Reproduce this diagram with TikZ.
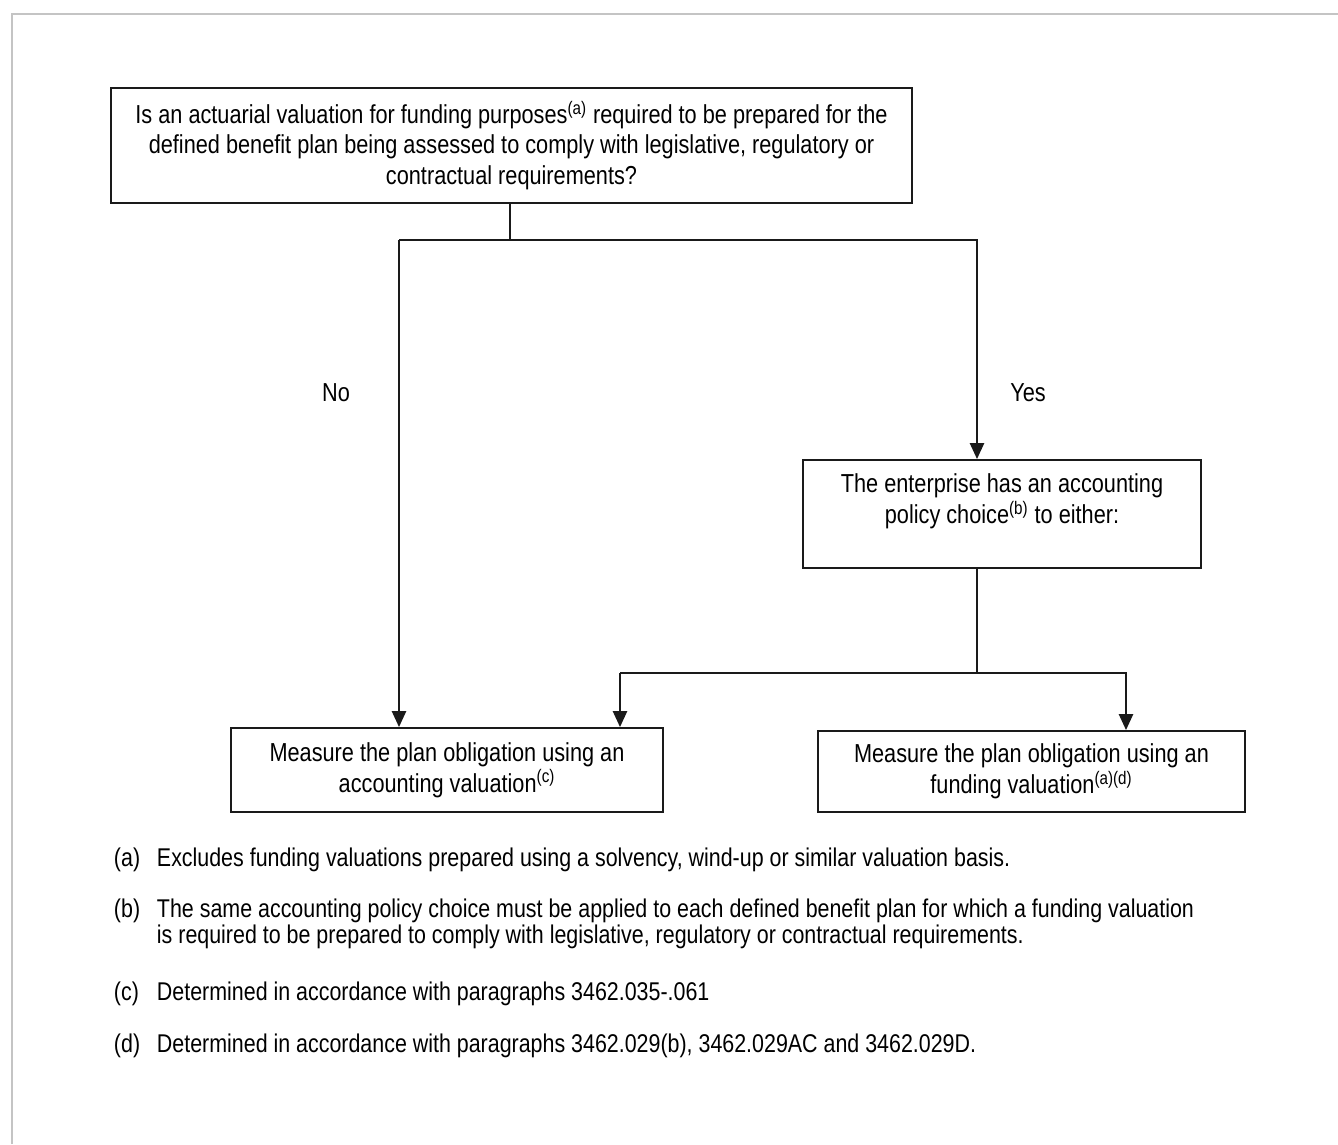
\documentclass[tikz,border=0pt]{standalone}
\usepackage{fontspec}
\usepackage{tikz}
\setmainfont[FakeStretch=0.835]{Liberation Sans}
\definecolor{frame500}{HTML}{C4C4C4}
\definecolor{line900}{HTML}{1A1A1A}
\usetikzlibrary{arrows.meta}
\newcommand{\boxfont}{\fontsize{14.8}{17.4}\selectfont}
\newcommand{\notefont}{\fontsize{14.6}{14.8}\selectfont}
\tikzstyle{caixa}=[draw=line900, line width=1.1pt, align=center, inner sep=0pt, font=\boxfont]
\tikzstyle{rotulo}=[inner sep=0pt, font=\boxfont]
\tikzstyle{nota}=[anchor=base west, inner sep=0pt, align=left, font=\notefont]

\begin{document}
\begin{tikzpicture}[x=0.02cm, y=-0.02cm, line width=1.1pt, draw=line900, >={Triangle[length=9pt, width=8pt]}]
				\useasboundingbox (0,0) rectangle (1338,1144);
				\draw[frame500, line width=1.4pt] (12,1144) -- (12,14) -- (1338,14);
				\node[caixa, minimum width=16.02cm, minimum height=2.3cm] (q) at (511.5,145.5) {Is an actuarial valuation for funding purposes\textsuperscript{(a)} required to be prepared for the\\ defined benefit plan being assessed to comply with legislative, regulatory or\\ contractual requirements?};
				\node[caixa, minimum width=7.96cm, minimum height=2.16cm] (ch) at (1002,514) {The enterprise has an accounting\\ policy choice\textsuperscript{(b)} to either:\\ \mbox{}};
				\node[caixa, minimum width=8.64cm, minimum height=1.68cm] (acc) at (447,770) {Measure the plan obligation using an\\ accounting valuation\textsuperscript{(c)}};
				\node[caixa, minimum width=8.54cm, minimum height=1.62cm] (fund) at (1031.5,771.5) {Measure the plan obligation using an\\ funding valuation\textsuperscript{(a)(d)}};
				\node[rotulo] (no) at (336,393) {No};
				\node[rotulo] (yes) at (1028,393) {Yes};
				\coordinate (sM) at (510,240);
				\coordinate (sL) at (399,240);
				\coordinate (sR) at (977,240);
				\coordinate (tL) at (620,673);
				\coordinate (tR) at (1126,673);
				\draw (sM |- q.south) -- (sM);
				\draw[->] (sL) -- (sL |- acc.north);
				\draw[->] (sL) -- (sR) -- (sR |- ch.north);
				\draw (sR |- ch.south) -- (sR |- tL);
				\draw[->] (tL) -- (tL |- acc.north);
				\draw[->] (tL) -- (tR) -- (tR |- fund.north);
				% notes (a multi-line note sits on the baseline of its last line)
				\node[nota] (la) at (113,866) {(a)};
				\node[nota] (na) at (156,866) {Excludes funding valuations prepared using a solvency, wind-up or similar valuation basis.};
				\node[nota] (lb) at (113,917) {(b)};
				\node[nota] (nb) at (156,943) {The same accounting policy choice must be applied to each defined benefit plan for which a funding valuation\\ is required to be prepared to comply with legislative, regulatory or contractual requirements.};
				\node[nota] (lc) at (113,1000) {(c)};
				\node[nota] (nc) at (156,1000) {Determined in accordance with paragraphs 3462.035-.061};
				\node[nota] (ld) at (113,1052) {(d)};
				\node[nota] (nd) at (156,1052) {Determined in accordance with paragraphs 3462.029(b), 3462.029AC and 3462.029D.};
			\end{tikzpicture}
\end{document}
